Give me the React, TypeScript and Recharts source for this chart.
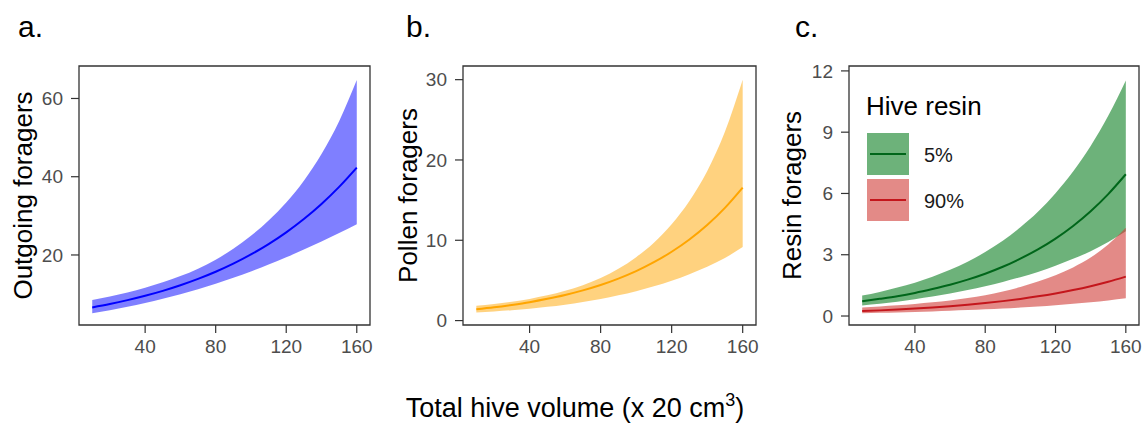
import { ComposedChart, Area, Line, XAxis, YAxis, ReferenceArea } from "recharts";

// total hive volume (x 20 cm3)
const volume = [10, 20, 30, 40, 50, 60, 70, 80, 90, 100, 110, 120, 130, 140, 150, 160];

// a. outgoing foragers
const outLow = [5.1, 5.88, 6.75, 7.71, 8.78, 9.96, 11.25, 12.65, 14.17, 15.8, 17.55, 19.4, 21.38, 23.45, 25.6, 27.85];
const outMid = [6.6, 7.47, 8.46, 9.57, 10.83, 12.26, 13.88, 15.71, 17.78, 20.13, 22.78, 25.79, 29.19, 33.04, 37.4, 42.33];
const outHigh = [8.5, 9.4, 10.4, 11.6, 13.0, 14.6, 16.5, 18.8, 21.6, 24.9, 28.8, 33.4, 39.0, 45.8, 54.2, 64.7];

// b. pollen foragers
const polLow = [1.0, 1.13, 1.29, 1.48, 1.71, 1.98, 2.31, 2.69, 3.14, 3.66, 4.26, 4.96, 5.78, 6.71, 7.79, 9.15];
const polMid = [1.4, 1.65, 1.95, 2.29, 2.71, 3.19, 3.76, 4.43, 5.23, 6.16, 7.27, 8.57, 10.1, 11.9, 14.04, 16.56];
const polHigh = [1.85, 2.07, 2.35, 2.7, 3.14, 3.7, 4.4, 5.3, 6.45, 7.9, 9.7, 12.0, 14.9, 18.6, 23.5, 30.0];

// c. resin foragers, 5% hive resin
const lowResinLow = [0.52, 0.6, 0.7, 0.82, 0.95, 1.1, 1.27, 1.46, 1.67, 1.9, 2.16, 2.46, 2.8, 3.17, 3.62, 4.15];
const lowResinMid = [0.72, 0.84, 0.97, 1.13, 1.32, 1.53, 1.78, 2.07, 2.41, 2.81, 3.26, 3.79, 4.41, 5.13, 5.97, 6.94];
const lowResinHigh = [1.0, 1.18, 1.39, 1.63, 1.92, 2.26, 2.66, 3.13, 3.68, 4.34, 5.1, 6.01, 7.07, 8.32, 9.8, 11.53];

// c. resin foragers, 90% hive resin
const highResinLow = [0.14, 0.158, 0.178, 0.201, 0.227, 0.257, 0.29, 0.327, 0.369, 0.417, 0.471, 0.532, 0.6, 0.678, 0.765, 0.864];
const highResinMid = [0.24, 0.276, 0.317, 0.364, 0.418, 0.481, 0.552, 0.635, 0.729, 0.838, 0.963, 1.106, 1.271, 1.46, 1.678, 1.928];
const highResinHigh = [0.42, 0.47, 0.525, 0.59, 0.67, 0.765, 0.88, 1.02, 1.2, 1.42, 1.69, 2.0, 2.38, 2.86, 3.5, 4.32];

const xTicks = [40, 80, 120, 160];
const resinLevels = ["5%", "90%"];

const FONT = "'Liberation Sans', Arial, sans-serif";
const X_DOMAIN: [number, number] = [2.5, 167.5];
const GREEN = "#0c7f21";
const RED = "#d03c37";

interface Series {
  band: string;
  mid: string;
  fill: string;
  opacity: number;
  stroke: string;
}

interface PanelProps {
  left: number;
  width: number;
  yWidth: number;
  marginRight: number;
  data: Record<string, unknown>[];
  yDomain: [number, number];
  yTicks: number[];
  title: string;
  titleX: number;
  series: Series[];
}

function yTitle(text: string, cx: number) {
  return (props: any) => {
    const vb = props.viewBox || { y: 66, height: 259 };
    const cy = vb.y + vb.height / 2;
    return (
      <text
        x={cx}
        y={cy}
        transform={`rotate(-90 ${cx} ${cy})`}
        textAnchor="middle"
        dominantBaseline="central"
        fontSize={26}
        fill="#000"
        fontFamily={FONT}
      >
        {text}
      </text>
    );
  };
}

function Panel({ left, width, yWidth, marginRight, data, yDomain, yTicks, title, titleX, series }: PanelProps) {
  const tick = { fill: "#4d4d4d", fontSize: 19, fontFamily: FONT };
  return (
    <div style={{ position: "absolute", left, top: 0 }}>
      <ComposedChart
        width={width}
        height={426}
        data={data}
        margin={{ top: 66, right: marginRight, bottom: 61, left: 0 }}
      >
        <XAxis
          dataKey="x"
          type="number"
          domain={X_DOMAIN}
          ticks={xTicks}
          height={40}
          tick={tick}
          tickSize={8}
          tickMargin={7}
          tickLine={{ stroke: "#333", strokeWidth: 1.2 }}
          axisLine={false}
        />
        <YAxis
          type="number"
          domain={yDomain}
          ticks={yTicks}
          width={yWidth}
          tick={tick}
          tickSize={8}
          tickMargin={8}
          tickLine={{ stroke: "#333", strokeWidth: 1.2 }}
          axisLine={false}
          label={{ content: yTitle(title, titleX) }}
        />
        {series.map((s) => (
          <Area
            key={s.band}
            dataKey={s.band}
            type="monotone"
            stroke="none"
            fill={s.fill}
            fillOpacity={s.opacity}
            activeDot={false}
            isAnimationActive={false}
          />
        ))}
        {series.map((s) => (
          <Line
            key={s.mid}
            dataKey={s.mid}
            type="monotone"
            stroke={s.stroke}
            strokeWidth={2}
            dot={false}
            activeDot={false}
            isAnimationActive={false}
          />
        ))}
        <ReferenceArea
          x1={X_DOMAIN[0]}
          x2={X_DOMAIN[1]}
          y1={yDomain[0]}
          y2={yDomain[1]}
          fill="none"
          stroke="#333"
          strokeWidth={1.3}
          ifOverflow="visible"
        />
      </ComposedChart>
    </div>
  );
}

export default function App() {
  const outgoing = volume.map((x, i) => ({ x, band: [outLow[i], outHigh[i]], mid: outMid[i] }));
  const pollen = volume.map((x, i) => ({ x, band: [polLow[i], polHigh[i]], mid: polMid[i] }));
  const resin = volume.map((x, i) => ({
    x,
    lowBand: [lowResinLow[i], lowResinHigh[i]],
    lowMid: lowResinMid[i],
    highBand: [highResinLow[i], highResinHigh[i]],
    highMid: highResinMid[i],
  }));

  return (
    <div style={{ position: "absolute", left: 0, top: 0, width: 1145, height: 426, background: "#fff", fontFamily: FONT }}>
      <Panel
        left={0}
        width={380}
        yWidth={79}
        marginRight={10}
        data={outgoing}
        yDomain={[2.1, 68.3]}
        yTicks={[20, 40, 60]}
        title="Outgoing foragers"
        titleX={23}
        series={[{ band: "band", mid: "mid", fill: "#0000ff", opacity: 0.5, stroke: "#0000ff" }]}
      />
      <Panel
        left={380}
        width={390}
        yWidth={83}
        marginRight={14}
        data={pollen}
        yDomain={[-0.55, 31.7]}
        yTicks={[0, 10, 20, 30]}
        title="Pollen foragers"
        titleX={28}
        series={[{ band: "band", mid: "mid", fill: "#ffa500", opacity: 0.5, stroke: "#ffa500" }]}
      />
      <Panel
        left={770}
        width={375}
        yWidth={79}
        marginRight={6}
        data={resin}
        yDomain={[-0.44, 12.24]}
        yTicks={[0, 3, 6, 9, 12]}
        title="Resin foragers"
        titleX={22}
        series={[
          { band: "lowBand", mid: "lowMid", fill: GREEN, opacity: 0.6, stroke: "#00661a" },
          { band: "highBand", mid: "highMid", fill: RED, opacity: 0.6, stroke: "#c4161c" },
        ]}
      />
      <svg
        width={1145}
        height={426}
        style={{ position: "absolute", left: 0, top: 0, pointerEvents: "none" }}
        fontFamily={FONT}
      >
        <text x={18} y={37} fontSize={30} fill="#000">a.</text>
        <text x={406} y={37} fontSize={30} fill="#000">b.</text>
        <text x={795} y={37} fontSize={30} fill="#000">c.</text>

        <text x={575} y={417} fontSize={27} fill="#000" textAnchor="middle">
          Total hive volume (x 20 cm<tspan dy={-11} fontSize={18}>3</tspan>
          <tspan dy={11}>)</tspan>
        </text>

        {/* legend for panel c */}
        <text x={866} y={115} fontSize={26} fill="#000">Hive resin</text>
        <rect x={867} y={133} width={42} height={42} fill={GREEN} fillOpacity={0.6} />
        <line x1={870} x2={906} y1={154} y2={154} stroke="#00661a" strokeWidth={2} />
        <text x={924} y={155} fontSize={20} fill="#1a1a1a" dominantBaseline="central">{resinLevels[0]}</text>
        <rect x={867} y={179} width={42} height={42} fill={RED} fillOpacity={0.6} />
        <line x1={870} x2={906} y1={200} y2={200} stroke="#c4161c" strokeWidth={2} />
        <text x={924} y={201} fontSize={20} fill="#1a1a1a" dominantBaseline="central">{resinLevels[1]}</text>
      </svg>
    </div>
  );
}
